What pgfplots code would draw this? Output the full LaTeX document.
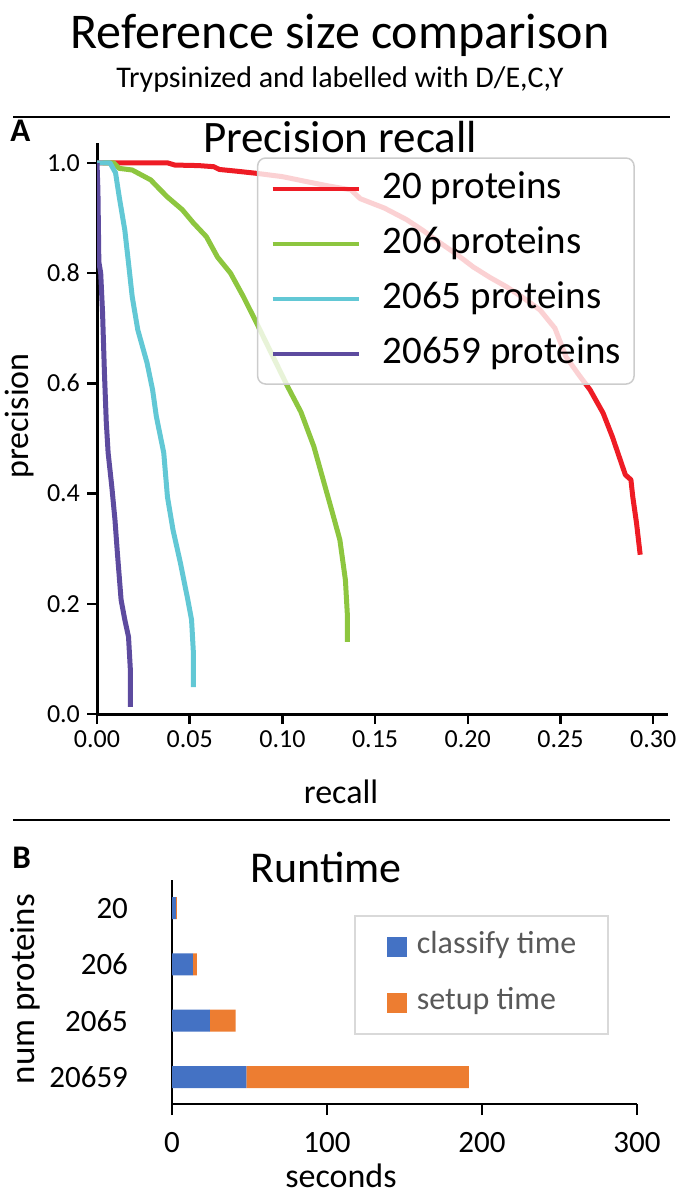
\documentclass[border=0pt]{standalone}
\usepackage{fontspec}
\setmainfont{Carlito}
\usepackage{pgfplots}
\pgfplotsset{compat=1.18}
\definecolor{cRed}{HTML}{EE1C25}
\definecolor{cGreen}{HTML}{8DC63F}
\definecolor{cCyan}{HTML}{62C8D5}
\definecolor{cPurple}{HTML}{5D4B9F}
\definecolor{cBlue}{HTML}{4472C4}
\definecolor{cOrange}{HTML}{ED7D31}
\definecolor{legtext}{HTML}{595959}
\newcommand{\fs}[1]{\fontsize{#1}{#1}\selectfont}

\begin{document}
\begin{tikzpicture}
\useasboundingbox (0,0) rectangle (339pt,-600pt);

% headings and separators (coordinates in px of the 678x1200 reference, y down)
\begin{scope}[x=0.5pt,y=-0.5pt]
\node[anchor=base,inner sep=0pt] at (340,48) {\fs{25pt}Reference size comparison};
\node[anchor=base,inner sep=0pt] at (340,87) {\fs{15pt}Trypsinized and labelled with D/E,C,Y};
\draw[line width=1pt] (13,117) -- (670,117);
\node[anchor=base west,inner sep=0pt] at (10,141) {\fs{16.5pt}\bfseries A};
\node[anchor=base,inner sep=0pt] at (340,152) {\fs{22.5pt}Precision recall};
\node[rotate=90,inner sep=0pt] at (20,416) {\fs{17pt}precision};
\node[anchor=base,inner sep=0pt] at (341,803) {\fs{17pt}recall};
\draw[line width=1pt] (13,820) -- (670,820);
\node[anchor=base west,inner sep=0pt] at (12,868) {\fs{16.5pt}\bfseries B};
\node[anchor=base,inner sep=0pt] at (326,882) {\fs{22pt}Runtime};
\node[rotate=90,inner sep=0pt] at (25,989) {\fs{17.5pt}num proteins};
\node[anchor=base,inner sep=0pt] at (341,1187) {\fs{17pt}seconds};
\end{scope}

% A: precision recall
\begin{axis}[
    at={(48.5pt,-357pt)}, anchor=south west,
    scale only axis, width=285.5pt, height=285.5pt,
    xmin=0, xmax=0.308, ymin=0, ymax=1.036,
    axis lines=left,
    axis line style={-, line width=1.5pt},
    tick align=outside, major tick length=5pt,
    tick style={black, line width=1.2pt},
    xtick={0,0.05,0.10,0.15,0.20,0.25,0.30},
    ytick={0,0.2,0.4,0.6,0.8,1.0},
    scaled ticks=false,
    /pgf/number format/assume math mode=true,
    tick label style={font=\fs{13pt}},
    x tick label style={/pgf/number format/.cd, fixed, fixed zerofill, precision=2},
    y tick label style={/pgf/number format/.cd, fixed, fixed zerofill, precision=1},
    legend cell align=left,
    legend image code/.code={\draw[#1, line width=2pt] (0pt,0pt) -- (43pt,0pt);},
    legend style={
        at={(0.280,0.975)}, anchor=north west,
        font=\fs{19.5pt},
        fill=white, fill opacity=0.8, text opacity=1,
        draw=black!20, line width=0.75pt, rounded corners=4pt,
        inner xsep=6.5pt, inner ysep=6pt,
        row sep=9pt, column sep=11pt,
        nodes={inner sep=0pt, text height=14pt, text depth=4.5pt},
    },
    every axis plot/.append style={line width=2.5pt, line join=round},
]
% 20 proteins
\addplot[cRed] coordinates {
(0,1) (0.02,1) (0.038,1.0) (0.042,0.996) (0.055,0.995) (0.063,0.993) (0.066,0.988)
(0.075,0.985) (0.086,0.981) (0.1,0.975) (0.113,0.966) (0.125,0.958) (0.137,0.951)
(0.142,0.935) (0.155,0.918) (0.167,0.897) (0.176,0.877) (0.185,0.855) (0.194,0.834)
(0.203,0.811) (0.212,0.792) (0.221,0.775) (0.230,0.755) (0.239,0.733) (0.247,0.70)
(0.253,0.648) (0.260,0.615) (0.266,0.588) (0.273,0.546) (0.278,0.503) (0.285,0.434)
(0.288,0.425) (0.289,0.394) (0.291,0.347) (0.293,0.289)};
\addlegendentry{20 proteins}
% 206 proteins
\addplot[cGreen] coordinates {
(0.003,1.0) (0.009,1.0) (0.012,0.99) (0.019,0.987) (0.024,0.978) (0.029,0.969)
(0.033,0.955) (0.038,0.938) (0.046,0.915) (0.052,0.891) (0.059,0.866) (0.065,0.829)
(0.072,0.80) (0.079,0.757) (0.086,0.71) (0.095,0.648) (0.103,0.593) (0.110,0.548)
(0.117,0.485) (0.122,0.425) (0.127,0.365) (0.131,0.316) (0.134,0.243) (0.135,0.183)
(0.135,0.131)};
\addlegendentry{206 proteins}
% 2065 proteins
\addplot[cCyan] coordinates {
(0,1.0) (0.007,1.0) (0.010,0.982) (0.012,0.938) (0.015,0.878) (0.017,0.818)
(0.019,0.757) (0.022,0.697) (0.027,0.637) (0.030,0.588) (0.032,0.540) (0.036,0.474)
(0.038,0.394) (0.041,0.334) (0.045,0.274) (0.049,0.207) (0.051,0.171) (0.052,0.111)
(0.052,0.049)};
\addlegendentry{2065 proteins}
% 20659 proteins
\addplot[cPurple] coordinates {
(0,1.0) (0.0005,0.95) (0.001,0.82) (0.002,0.80) (0.003,0.728) (0.004,0.62)
(0.005,0.53) (0.006,0.474) (0.008,0.412) (0.0097,0.352) (0.011,0.292) (0.013,0.207)
(0.015,0.171) (0.017,0.140) (0.018,0.080) (0.018,0.013)};
\addlegendentry{20659 proteins}
\end{axis}

% B: runtime
\begin{axis}[
    at={(86pt,-552pt)}, anchor=south west,
    scale only axis, width=232.5pt, height=112pt,
    xbar stacked, bar width=11pt,
    xmin=0, xmax=300, ymin=-0.48, ymax=3.5,
    axis lines=left,
    axis line style={-, line width=1pt},
    tick align=outside, major tick length=5.5pt,
    xtick={0,100,200,300},
    ytick={0,1,2,3},
    yticklabels={20659,2065,206,20},
    ytick style={draw=none},
    xtick style={black, line width=1pt},
    /pgf/number format/assume math mode=true,
    tick label style={font=\fs{15.5pt}},
    x tick label style={yshift=-5pt},
    y tick label style={xshift=-13pt},
    legend cell align=left,
    legend image code/.code={\fill[#1] (0pt,-5pt) rectangle (10pt,5pt);},
    legend style={
        at={(0.391,0.844)}, anchor=north west,
        font=\fs{16pt}, text=legtext,
        draw=black!15, line width=1pt,
        inner xsep=16pt, inner ysep=7pt,
        row sep=11pt, column sep=5pt,
        nodes={inner sep=0pt, text height=12pt, text depth=5pt},
    },
]
\addplot[fill=cBlue, draw=none] coordinates {(2.5,3) (13.5,2) (24.5,1) (48,0)};
\addlegendentry{classify time}
\addplot[fill=cOrange, draw=none] coordinates {(0.7,3) (2.5,2) (16.5,1) (143.5,0)};
\addlegendentry{setup time}
\end{axis}
\end{tikzpicture}
\end{document}
